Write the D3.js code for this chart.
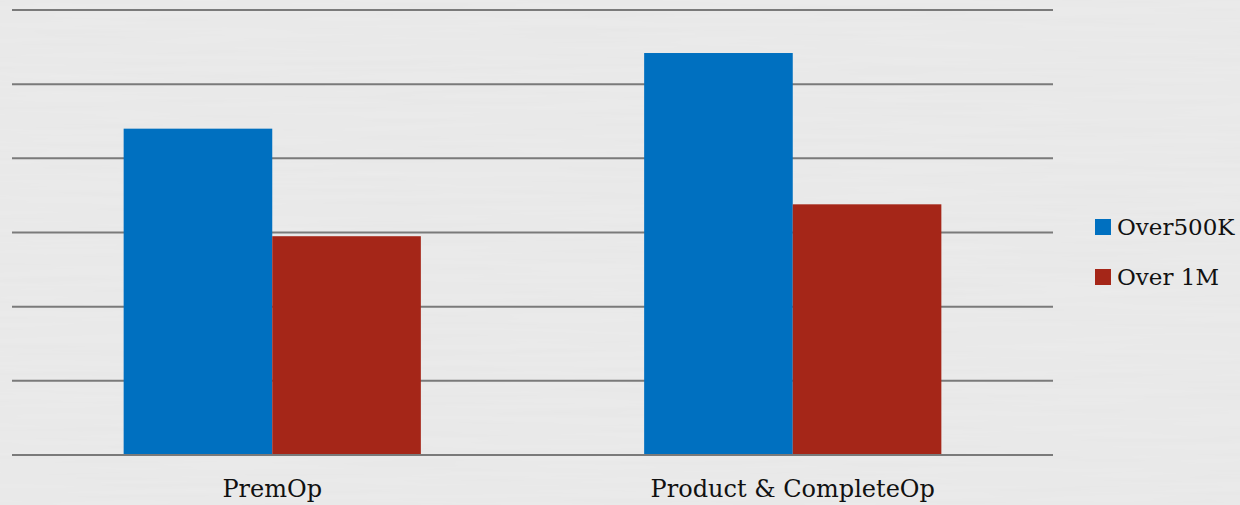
<!DOCTYPE html>
<html><head><meta charset="utf-8">
<script src="https://cdn.jsdelivr.net/npm/d3@7"></script>
<style>
html,body{margin:0;padding:0;background:#e9e9e9;}
svg{display:block;}
</style></head>
<body>
<script>
const categories = ["PremOp", "Product & CompleteOp"];
const seriesNames = ["Over500K", "Over 1M"];
const over500K = [4.4, 5.42];
const over1M = [2.95, 3.38];
const yTicks = [0, 1, 2, 3, 4, 5, 6];
const colors = ["#0070c0", "#a52618"];

const W = 1240, H = 505;
const svg = d3.select("body").append("svg").attr("width", W).attr("height", H);

// subtle paper texture
const defs = svg.append("defs");
const f = defs.append("filter").attr("id", "tex").attr("x", 0).attr("y", 0).attr("width", "100%").attr("height", "100%");
f.append("feTurbulence").attr("type", "fractalNoise").attr("baseFrequency", "0.006 0.18").attr("numOctaves", 2).attr("seed", 3);
f.append("feColorMatrix").attr("type", "matrix")
  .attr("values", "0 0 0 0 1  0 0 0 0 1  0 0 0 0 1  0 0 0 0.18 0");
svg.append("rect").attr("width", W).attr("height", H).attr("fill", "#e7e7e7");
svg.append("rect").attr("width", W).attr("height", H).attr("filter", "url(#tex)");

const plot = {left: 12, right: 1053, top: 10, bottom: 455};
const x0 = d3.scaleBand().domain(categories).range([plot.left, plot.right]).paddingInner(0).paddingOuter(0);
const y = d3.scaleLinear().domain([0, 6]).range([plot.bottom, plot.top]);
const groupW = x0.bandwidth() * 0.571;
const x1 = d3.scaleBand().domain(seriesNames).range([0, groupW]).padding(0);

const fontFam = "'DejaVu Serif', 'Liberation Serif', serif";

// gridlines
svg.append("g").selectAll("line").data(yTicks).join("line")
  .attr("x1", plot.left).attr("x2", plot.right)
  .attr("y1", d => y(d)).attr("y2", d => y(d))
  .attr("stroke", "#7a7a7a").attr("stroke-width", 2);

const data = [over500K, over1M];
const g = svg.append("g");
categories.forEach((c, i) => {
  const gx = x0(c) + (x0.bandwidth() - groupW) / 2;
  seriesNames.forEach((s, j) => {
    g.append("rect")
      .attr("x", gx + x1(s))
      .attr("y", y(data[j][i]))
      .attr("width", x1.bandwidth())
      .attr("height", y(0) - y(data[j][i]))
      .attr("fill", colors[j]);
  });
});

// baseline over bars
svg.append("line").attr("x1", plot.left).attr("x2", plot.right)
  .attr("y1", y(0)).attr("y2", y(0)).attr("stroke", "#7a7a7a").attr("stroke-width", 2);

// category labels
const xAxis = d3.axisBottom(x0).tickSize(0).tickPadding(0);
const ax = svg.append("g").attr("transform", `translate(0,${plot.bottom})`).call(xAxis);
ax.select(".domain").remove();
ax.selectAll("text").attr("font-family", fontFam).attr("font-size", 24)
  .attr("fill", "#111").attr("dy", null).attr("y", 42);

// legend
const leg = svg.append("g");
seriesNames.forEach((s, j) => {
  leg.append("rect").attr("x", 1095).attr("y", 219 + j * 50).attr("width", 16).attr("height", 16).attr("fill", colors[j]);
  leg.append("text").attr("x", 1117).attr("y", 235 + j * 50).text(s)
    .attr("font-family", fontFam).attr("font-size", 23).attr("fill", "#111");
});
</script>
</body></html>
